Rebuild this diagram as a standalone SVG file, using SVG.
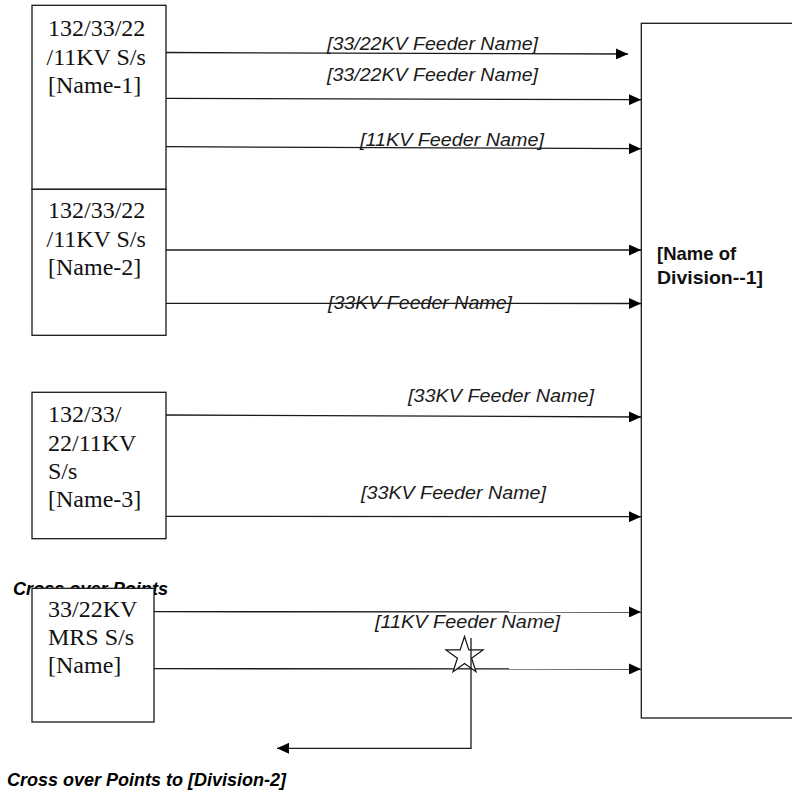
<svg xmlns="http://www.w3.org/2000/svg" width="792" height="795" viewBox="0 0 792 795">
<defs>
<style>
.box{fill:#fff;stroke:#1a1a1a;stroke-width:1.3}
.ss{font-family:"Liberation Serif","Times New Roman",serif;font-size:24px;fill:#111}
.lbl{font-family:"Liberation Sans",Arial,sans-serif;font-size:18px;font-style:italic;fill:#1a1a1a}
.div{font-family:"Liberation Sans",Arial,sans-serif;font-size:18.5px;font-weight:bold;fill:#111}
.cx{font-family:"Liberation Sans",Arial,sans-serif;font-size:18px;font-weight:bold;font-style:italic;fill:#000}
.ln{fill:none;stroke:#1a1a1a;stroke-width:1.3}
</style>
<marker id="ah" markerUnits="userSpaceOnUse" markerWidth="12" markerHeight="11" refX="12" refY="5.5" orient="auto">
<path d="M0,0 L12,5.5 L0,11 z" fill="#000"/>
</marker>
</defs>
<rect width="792" height="795" fill="#fff"/>

<text class="cx" x="13" y="595" textLength="155" lengthAdjust="spacingAndGlyphs">Cross over Points</text>

<g id="division1">
<rect class="box" x="641.3" y="23.3" width="170" height="694.7"/>
<text class="div" x="657" y="260">[Name of</text>
<text class="div" x="657" y="284" textLength="106" lengthAdjust="spacingAndGlyphs">Division--1]</text>
</g>

<g id="ss1">
<rect class="box" x="32" y="5.3" width="134" height="184"/>
<text class="ss" x="48" y="36">132/33/22</text>
<text class="ss" x="46.5" y="64.5">/11KV S/s</text>
<text class="ss" x="48" y="93">[Name-1]</text>
</g>

<g id="ss2">
<rect class="box" x="32" y="189.3" width="134" height="146"/>
<text class="ss" x="48" y="218">132/33/22</text>
<text class="ss" x="46.5" y="246.5">/11KV S/s</text>
<text class="ss" x="48" y="275">[Name-2]</text>
</g>

<g id="ss3">
<rect class="box" x="32" y="392.3" width="134" height="146.4"/>
<text class="ss" x="48" y="421.5">132/33/</text>
<text class="ss" x="48" y="450.5">22/11KV</text>
<text class="ss" x="48" y="478.5">S/s</text>
<text class="ss" x="48" y="506.5">[Name-3]</text>
</g>

<g id="mrs">
<rect class="box" x="32" y="588.3" width="122" height="133.7"/>
<text class="ss" x="48" y="616.5">33/22KV</text>
<text class="ss" x="48" y="645">MRS S/s</text>
<text class="ss" x="48" y="673.3">[Name]</text>
</g>

<g id="connectors">
<line class="ln" x1="166" y1="52.5" x2="628" y2="54" marker-end="url(#ah)"/>
<line class="ln" x1="166" y1="98.3" x2="641" y2="99.7" marker-end="url(#ah)"/>
<line class="ln" x1="166" y1="146.7" x2="641" y2="148.7" marker-end="url(#ah)"/>
<line class="ln" x1="166" y1="250" x2="641" y2="250" marker-end="url(#ah)"/>
<line class="ln" x1="166" y1="303.3" x2="641" y2="303.5" marker-end="url(#ah)"/>
<line class="ln" x1="166" y1="415" x2="641" y2="417" marker-end="url(#ah)"/>
<line class="ln" x1="166" y1="516.3" x2="641" y2="516.7" marker-end="url(#ah)"/>
<line class="ln" x1="154" y1="611.7" x2="641" y2="612" marker-end="url(#ah)"/>
<line class="ln" x1="154" y1="668.7" x2="641" y2="669" marker-end="url(#ah)"/>
<polygon points="464.5,636.5 468.88,649.97 483.05,649.97 471.59,658.3 475.96,671.78 464.5,663.45 453.04,671.78 457.41,658.3 445.95,649.97 460.12,649.97" fill="#fff" stroke="#111" stroke-width="1.2"/>
<path class="ln" d="M471,638 L471,748.3 L277,748.3" marker-end="url(#ah)"/>
</g>

<g id="labels">
<text class="lbl" x="327" y="50" textLength="211" lengthAdjust="spacingAndGlyphs">[33/22KV Feeder Name]</text>
<text class="lbl" x="327" y="81" textLength="211" lengthAdjust="spacingAndGlyphs">[33/22KV Feeder Name]</text>
<text class="lbl" x="360" y="146" textLength="184" lengthAdjust="spacingAndGlyphs">[11KV Feeder Name]</text>
<text class="lbl" x="328" y="309" textLength="184" lengthAdjust="spacingAndGlyphs">[33KV Feeder Name]</text>
<text class="lbl" x="408" y="402" textLength="186" lengthAdjust="spacingAndGlyphs">[33KV Feeder Name]</text>
<text class="lbl" x="361" y="498.5" textLength="185" lengthAdjust="spacingAndGlyphs">[33KV Feeder Name]</text>
<text class="lbl" x="375" y="627.5" textLength="185" lengthAdjust="spacingAndGlyphs">[11KV Feeder Name]</text>
</g>

<text class="cx" x="7" y="786" textLength="279" lengthAdjust="spacingAndGlyphs">Cross over Points to [Division-2]</text>
</svg>
